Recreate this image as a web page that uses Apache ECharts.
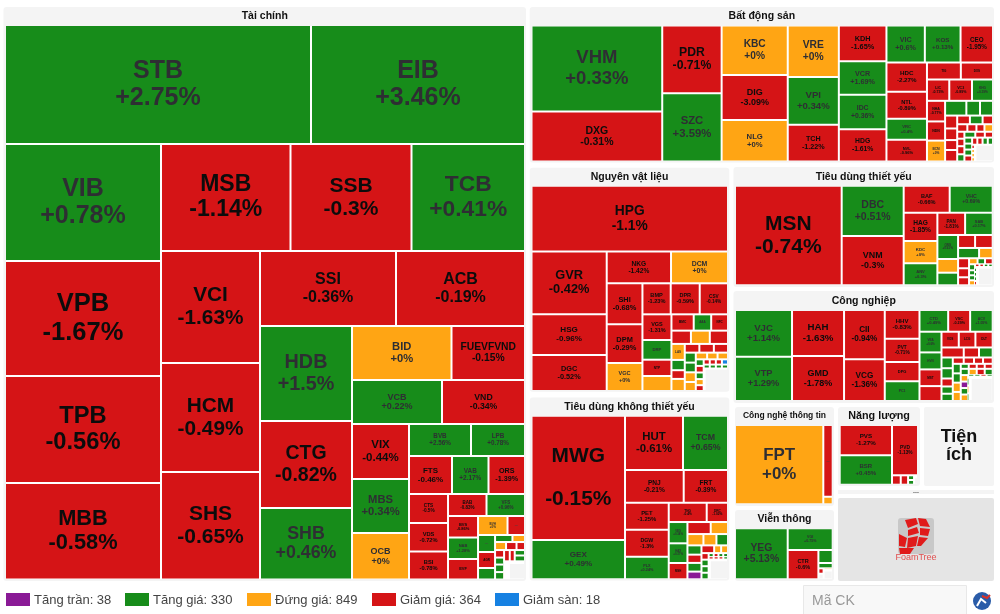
<!DOCTYPE html>
<html><head><meta charset="utf-8">
<style>html,body{margin:0;padding:0;background:#fff}#c{width:1000px;height:614px}</style>
<script src="https://cdn.jsdelivr.net/npm/echarts@6/dist/echarts.min.js"></script>
</head><body><div id="c"></div>
<script>
// ---------- data: names, relative weight read from tile areas, % change, tiles per strip ----------
const financeNames = ["STB","EIB","VIB","VPB","TPB","MBB","MSB","SSB","TCB","VCI","HCM","SHS","SSI","ACB","HDB","CTG","SHB","BID","FUEVFVND","VCB","VND","VIX","MBS","OCB","BVB","LPB","FTS","VAB","ORS","CTS","VDS","BSI","BAB","VFS","BVS","NAB","EVF","BVH","...","...","AGR","...","...","...","...","...","...","..."];
const financeValues = [36414,25466,18252,17940,16692,15054,13857,12947,12145,11088,10791,10642,10200,9675,8740,8004,6578,5373,3969,3960,3652,3135,3078,2651,1984,1728,1634,1387,1387,1131,1112,1092,847,847,645,645,615,560,332,289,272,196,122,88,88,84,68,68,63,68,67,64,56,56,60,20,18,15,15,10,10,8,8,6,5,265];
const financeChanges = [2.75,3.46,0.78,-1.67,-0.56,-0.58,-1.14,-0.3,0.41,-1.63,-0.49,-0.65,-0.36,-0.19,1.5,-0.82,0.46,0,-0.15,0.22,-0.34,-0.44,0.34,0,2.56,0.78,-0.46,2.17,-1.39,-0.5,-0.72,-0.78,-0.83,0.96,-0.86,1.28,-0.94,0,-0.9,0.5,-0.65,0.5,0.5,0,0,-0.5,-0.5,-0.5,0.5,0.5,0.5,-0.5,-0.5,0.5,0.5,0.5,0,0.5,0.5,-0.5,0.5,0.5,0.5,-0.5,0.5,null];
const financeStrips = [2,4,3,3,2,3,2,2,3,2,3,3,2,3,2,3,2,3,4,4,2,2,3,3,1];

const realEstateNames = ["VHM","DXG","PDR","SZC","KBC","DIG","NLG","VRE","VPI","TCH","KDH","VCR","IDC","HDG","VIC","KOS","CEO","HDC","NTL","VRC","NVL","TIG","DXS","LIC","VC3","KHG","NHA","NDN","BCM","SCI","...","...","...","...","...","...","...","...","...","...","...","...","..."];
const realEstateValues = [11223,6525,4021,4044,3267,2970,2739,2627,2433,1877,1693,1598,1636,1536,1420,1321,1200,1181,1088,858,875,573,544,475,484,447,373,347,378,313,201,191,156,140,120,139,110,110,90,76,68,60,64,50,54,58,52,64,56,48,46,46,46,46,37,37,37,37,14,14,14,14,294];
const realEstateChanges = [0.33,-0.31,-0.71,3.59,0,-3.09,0,0,0.34,-1.22,-1.65,1.69,0.36,-1.61,0.6,0.13,-1.95,-2.27,-0.89,0.4,-0.96,-0.82,-0.99,-0.73,-0.89,0.19,-0.77,-0.71,0,0.32,0.5,0.5,-0.5,-0.5,-0.5,-0.5,-0.5,0.5,-0.5,-0.5,-0.5,-0.5,0,-0.5,-0.5,-0.5,0.5,0.5,-0.5,-0.5,0.5,0.5,0.5,-0.5,-0.5,-0.5,0.5,0.5,-0.5,0,0,0,null];
const realEstateStrips = [2,2,3,3,4,3,4,2,3,3,3,4,3,4,4,3,4,4,4,1];

const materialsNames = ["HPG","GVR","HSG","DGC","NKG","DCM","SHI","DPM","VGC","BMP","DPR","CSV","VGS","DRP","NTP","...","BMC","AAA","NFC","...","...","...","LAS","...","...","...","...","...","...","...","...","...","...","...","...","..."];
const materialsValues = [12930,4723,3061,2707,2045,1812,1464,1382,1000,877,899,877,745,571,473,435,363,285,274,259,251,242,213,137,116,161,127,126,123,110,107,107,99,76,70,70,52,52,52,48,46,32,32,32,32,24,24,24,24,12,10,524];
const materialsChanges = [-1.1,-0.42,-0.96,-0.52,-1.42,0,-0.68,-0.29,0,-1.23,-0.59,-0.14,-1.31,1.9,-0.76,0,-0.98,0.35,-0.19,-0.5,0,-0.5,0,0.5,-0.5,0,-0.5,-0.5,-0.5,0.5,0.5,0,0,0,0,0,0.5,-0.5,0.5,0,-0.5,-0.5,-0.5,-0.5,-7,0.5,0.5,0.5,0.5,0.5,0.5,null];
const materialsStrips = [1,3,2,3,3,4,3,3,4,3,4,3,5,4,4,2,1];

const discretionaryNames = ["MWG","GEX","HUT","TCM","PNJ","FRT","PET","DGW","PLX","TNG","DRC","VEG","HAX","MSH","...","...","...","...","...","...","...","...","...","...","...","..."];
const discretionaryValues = [11622,3675,3149,2444,1920,1449,1180,1180,988,733,411,398,368,305,280,208,181,147,131,130,116,122,108,98,54,53,47,47,47,47,20,19,19,19,16,16,15,15,10,8,6,344];
const discretionaryChanges = [-0.15,0.49,-0.61,0.65,-0.21,-0.39,-1.25,-1.3,0.24,-0.4,-1.02,0.34,0.37,-0.49,-0.5,0,0,0,0.5,0.5,-0.5,0.5,7,-0.5,0,0,-0.5,0.5,0.5,0.5,0.5,-0.5,0.5,0.5,-0.5,-0.5,-0.5,0.5,0,0,0,null];
const discretionaryStrips = [2,2,2,3,2,3,2,3,4,3,4,4,4,3,1];

const staplesNames = ["MSN","DBC","VNM","BAF","VHC","HAG","KDC","ANV","PAN","SAB","QNS","...","...","...","...","...","...","...","...","..."];
const staplesValues = [10627,3119,3057,1242,1161,954,752,741,618,615,497,284,261,221,229,216,140,110,99,88,51,45,46,36,30,30,30,15,15,15,15,13,13,13,13,260];
const staplesChanges = [-0.74,0.51,-0.3,-0.66,0.69,-1.85,0,0.3,-1.81,0.17,0.61,0,0.5,-0.5,-0.5,0.5,0,-0.5,-0.5,-0.5,0,0.5,-0.5,0.5,0.5,0.5,0,-0.5,-0.5,0.5,0.5,0.5,0.5,0.5,-0.5,null];
const staplesStrips = [1,2,2,3,2,3,2,2,3,3,4,4,4,1];

const industrialNames = ["VJC","VTP","HAH","GMD","CII","VCG","HHV","PVT","DPG","PC1","CTD","VSC","ACV","VEA","HVN","MST","...","VOS","LCG","DLT","...","...","...","...","...","...","...","...","...","...","...","..."];
const industrialValues = [2662,2525,2392,2340,2007,1697,996,809,670,684,623,477,490,455,374,367,328,272,262,272,223,153,137,121,116,90,82,82,69,65,57,61,76,74,74,72,40,40,40,40,50,50,50,50,48,48,48,48,17,17,17,17,20,20,20,508];
const industrialChanges = [1.14,1.29,-1.63,-1.78,-0.94,-1.36,-0.83,-0.71,-0.71,0.38,0.49,-0.29,1.05,0.6,0.6,-1.49,-0.5,-1.3,-0.46,-0.9,-0.5,-0.5,0.5,0.5,0.5,-0.5,0.5,0.5,-0.5,-0.5,-0.5,-0.5,0.5,0.5,0,0,0.5,-0.5,-0.5,-0.5,0.5,0,-0.5,0.5,0,7,0.5,0,0.5,0.5,-0.5,0.5,0.5,0,0.5,null];
const industrialStrips = [2,2,2,4,3,4,3,3,5,4,4,4,4,4,4,3,1];

const techNames = ["FPT","...",""];
const techValues = [7002,674,71];
const techChanges = [0,-0.5,0];
const techStrips = [1,2];

const telecomNames = ["YEG","VGI","CTR","..."];
const telecomValues = [2688,977,899,186,76,28,29,20,80];
const telecomChanges = [5.13,0.75,-0.6,0.5,0.5,-0.5,null,0,null];
const telecomStrips = [1,1,1,1,1,2,1,1];

const energyNames = ["PVS","BSR","PVD"];
const energyValues = [1585,1538,1308,82,69,28,28,8,29];
const energyChanges = [-1.27,0.45,-1.13,-0.5,-0.5,0.5,0.5,0,null];
const energyStrips = [2,1,1,1,2,2];

const legendLabels = ["Tăng trần: 38","Tăng giá: 330","Đứng giá: 849","Giảm giá: 364","Giảm sàn: 18"];

// ---------- styling ----------
const FONT = '"Liberation Sans", Arial, sans-serif';
const C = {up:'#178c1a', down:'#d51416', flat:'#ffa514', ceil:'#8a1a96', floor:'#1681e2', panel:'#f4f4f4'};
const labelSizes = {STB:25,EIB:25,VIB:25,VPB:25.5,TPB:23.7,MBB:21.8,MSB:23,SSB:21,TCB:22.8,VCI:20.8,HCM:20.8,SHS:21,SSI:16,ACB:16,HDB:19.8,CTG:19.5,SHB:17.8,BID:11.2,FUEVFVND:10.3,VCB:9,VND:8.7,VIX:11.5,MBS:11.2,OCB:9,BVB:6.3,LPB:6.3,FTS:8,VAB:6.4,ORS:7.2,CTS:4.7,VDS:5.7,BSI:5.7,BAB:4.5,VFS:4.5,BVS:4,NAB:4,EVF:4,BVH:3,AGR:3,
 VHM:18.5,DXG:10.5,PDR:12.2,SZC:11.3,KBC:10.2,DIG:9,NLG:7.7,VRE:10.3,VPI:9.6,TCH:7.2,KDH:7.3,VCR:7.2,IDC:6.8,HDG:6.8,VIC:7.2,KOS:6.2,CEO:6.3,HDC:6.2,NTL:5.7,VRC:4.2,NVL:4,TIG:3,DXS:3,LIC:3.6,VC3:3.6,KHG:3.2,NHA:3.5,NDN:3.5,BCM:3.2,SCI:2.8,
 HPG:13.8,GVR:12.8,HSG:8.1,DGC:7.3,NKG:6.6,DCM:6.9,SHI:7.4,DPM:7.4,VGC:5.6,BMP:5.6,DPR:5.5,CSV:4.7,VGS:5.5,DRP:4.2,NTP:3.2,BMC:3.2,AAA:3,NFC:3,LAS:3,
 MWG:20.9,GEX:8.1,HUT:11.4,TCM:8.8,PNJ:6.6,FRT:6.6,PET:5.9,DGW:5.3,PLX:3.8,TNG:3.2,DRC:3.2,VEG:2.8,HAX:2.8,MSH:2.8,
 MSN:21,DBC:10.5,VNM:8.9,BAF:5.6,VHC:5.2,HAG:6.6,KDC:4.4,ANV:4.1,PAN:4.6,SAB:3.9,QNS:3,
 VJC:9.6,VTP:9.2,HAH:9.7,GMD:9,CII:8.2,VCG:8.2,HHV:6,PVT:4.7,DPG:4,PC1:3.6,CTD:4.1,VSC:3.7,ACV:3.5,VEA:3,HVN:3,MST:3,VOS:3,LCG:3,DLT:3,
 FPT:16.9,YEG:10.4,VGI:3.6,CTR:5.5,PVS:6.2,BSR:6,PVD:4.8};
const tall = {MWG:43};

function tileColor(ch){
  if(ch===null) return C.panel;
  if(ch>=6.9) return C.ceil;
  if(ch<=-6.9) return C.floor;
  return ch>0?C.up:ch<0?C.down:C.flat;
}
function textColor(ch){ return ch<0 ? '#0c0c0c' : '#2e2e33'; }
function pct(ch){ return (ch>=0?'+':'')+ch+'%'; }

function leaves(names, values, changes){
  return values.map((v,i)=>{
    const n = names[i]||'', ch = changes[i], size = labelSizes[n];
    const item = {name:n, value:v, itemStyle:{color:tileColor(ch)}};
    if(size){
      item.label = {show:true, fontSize:size, lineHeight:tall[n]||Math.round(size*1.1*10)/10, color:textColor(ch),
        formatter:n+'\n'+pct(ch)};
    } else if(n==='...'){
      item.label = {show:true, fontSize:3, color:'#444', formatter:'---'};
    } else {
      item.label = {show:false};
    }
    return item;
  });
}
// Tiles are grouped into successive strips, as the reference lays them out
function nest(items, strips){
  let i = 0;
  const groups = strips.map(n=>{ const g = items.slice(i,i+n); i+=n; return n===1?g[0]:{name:'',children:g}; });
  let node = groups[groups.length-1];
  for(let k=groups.length-2;k>=1;k--) node = {name:'',children:[groups[k],node]};
  return [groups[0],node];
}
function build(names,values,changes,strips){ return nest(leaves(names,values,changes),strips); }

const panels = [
 {t:"Tài chính", r:[3.5,7,522.5,574], b:[6,26,518,552.5], d:build(financeNames,financeValues,financeChanges,financeStrips), ty:16, fs:10.5},
 {t:"Bất động sản", r:[529.7,7,464.3,155.5], b:[532.5,26.5,459.5,134], d:build(realEstateNames,realEstateValues,realEstateChanges,realEstateStrips), ty:16, fs:10.5},
 {t:"Nguyên vật liệu", r:[529.7,167.7,199.6,224], b:[532.5,186.7,194.5,203.3], d:build(materialsNames,materialsValues,materialsChanges,materialsStrips), ty:177, fs:10.5},
 {t:"Tiêu dùng không thiết yếu", r:[529.7,397.5,199.6,183], b:[532.5,416.7,194.5,161.6], d:build(discretionaryNames,discretionaryValues,discretionaryChanges,discretionaryStrips), ty:407, fs:10.5},
 {t:"Tiêu dùng thiết yếu", r:[733.5,167,260.5,120], b:[736,186.7,255.7,97.6], d:build(staplesNames,staplesValues,staplesChanges,staplesStrips), ty:177, fs:10.5},
 {t:"Công nghiệp", r:[733.5,291,260.5,112], b:[736,311,255.7,89], d:build(industrialNames,industrialValues,industrialChanges,industrialStrips), ty:301, fs:10.5},
 {t:"Công nghệ thông tin", r:[735,407,99,99], b:[736,426,95.7,77.3], d:build(techNames,techValues,techChanges,techStrips), ty:416, fs:8.5},
 {t:"Viễn thông", r:[735,510,99,71], b:[736,529.3,95.7,49], d:build(telecomNames,telecomValues,telecomChanges,telecomStrips), ty:519, fs:10.5},
 {t:"Năng lượng", r:[838,407,82,79], b:[840.7,426,76.3,57.7], d:build(energyNames,energyValues,energyChanges,energyStrips), ty:416, fs:10.8}
];

const series = panels.map(p=>({
  type:'treemap', name:p.t, left:p.b[0], top:p.b[1], width:p.b[2], height:p.b[3],
  sort:false, squareRatio:1e-9, roam:false, nodeClick:false, silent:true, animation:false, visibleMin:0,
  breadcrumb:{show:false},
  itemStyle:{gapWidth:2, borderWidth:0, borderColor:'#ffffff'},
  label:{show:true, position:'inside', align:'center', verticalAlign:'middle', overflow:'none', fontFamily:FONT, fontWeight:'bold'},
  upperLabel:{show:false},
  emphasis:{disabled:true},
  data:p.d
}));

const graphic = [];
panels.forEach(p=>{
  graphic.push({type:'rect', shape:{x:p.r[0],y:p.r[1],width:p.r[2],height:p.r[3],r:3}, style:{fill:C.panel}, z:0, silent:true});
  graphic.push({type:'text', x:p.r[0]+p.r[2]/2, y:p.ty, z:5, silent:true,
    style:{text:p.t, fill:'#111', font:'bold '+p.fs+'px '+FONT, textAlign:'center', textVerticalAlign:'middle'}});
});
// Tiện ích panel, spacer, logo panel
graphic.push({type:'rect', shape:{x:924,y:407,width:70,height:79,r:2}, style:{fill:C.panel}, z:0});
graphic.push({type:'text', x:959, y:446, z:5, style:{text:'Tiện\ních', fill:'#111', font:'bold 18px '+FONT, lineHeight:18, textAlign:'center', textVerticalAlign:'middle'}});
graphic.push({type:'rect', shape:{x:838,y:490,width:156,height:4}, style:{fill:C.panel}, z:0});
graphic.push({type:'text', x:916, y:491, z:5, style:{text:'...', fill:'#555', font:'bold 7px '+FONT, textAlign:'center', textVerticalAlign:'middle'}});
graphic.push({type:'rect', shape:{x:838,y:498,width:156,height:83,r:2}, style:{fill:'#e5e5e5'}, z:0});
graphic.push({type:'rect', shape:{x:898,y:518,width:36,height:36,r:3}, style:{fill:'#c8c8c8'}, z:1});
[[[905,520],[916,518],[918,524],[908,528]],[[918,518],[926,519],[930,527],[920,526]],[[908,530],[917,527],[919,533],[908,536]],[[920,528],[930,529],[928,536],[920,535]],[[899,534],[907,538],[905,547],[899,546]],[[908,538],[918,536],[916,546],[907,548]],[[919,537],[928,538],[921,546],[917,546]],[[899,548],[914,548],[910,554],[900,554]]].forEach(pts=>{
  graphic.push({type:'polygon', shape:{points:pts}, style:{fill:'#e01a1a'}, z:2});
});
graphic.push({type:'text', x:916, y:558, z:5, style:{text:'FoamTree', fill:'#e05050', font:'9px '+FONT, textAlign:'center', textVerticalAlign:'middle'}});

// legend strip
const legendColors = [C.ceil,C.up,C.flat,C.down,C.floor];
const legendX = [6,125,247,372,495];
legendLabels.forEach((l,i)=>{
  graphic.push({type:'rect', shape:{x:legendX[i],y:593,width:24,height:13}, style:{fill:legendColors[i]}, z:1});
  graphic.push({type:'text', x:legendX[i]+28, y:600, z:1, style:{text:l, fill:'#444', font:'13px '+FONT, textVerticalAlign:'middle'}});
});
// search box + brand mark
graphic.push({type:'rect', shape:{x:803.5,y:585.5,width:163,height:40}, style:{fill:'#f8f8f8', stroke:'#e8e8e8', lineWidth:1}, z:1});
graphic.push({type:'text', x:812, y:601, z:2, style:{text:'Mã CK', fill:'#999', font:'14px '+FONT, textVerticalAlign:'middle'}});
graphic.push({type:'circle', shape:{cx:982,cy:601,r:9}, style:{fill:'#2a5ca8'}, z:1});
graphic.push({type:'polyline', shape:{points:[[977,606],[981,599],[986,603]]}, style:{stroke:'#fff', lineWidth:2, fill:null}, z:2});
graphic.push({type:'polyline', shape:{points:[[982,596],[987,598],[990,595]]}, style:{stroke:'#d8322a', lineWidth:2, fill:null}, z:2});

const chart = echarts.init(document.getElementById('c'), null, {renderer:'canvas'});
chart.setOption({animation:false, backgroundColor:'#ffffff', series, graphic});
</script></body></html>
